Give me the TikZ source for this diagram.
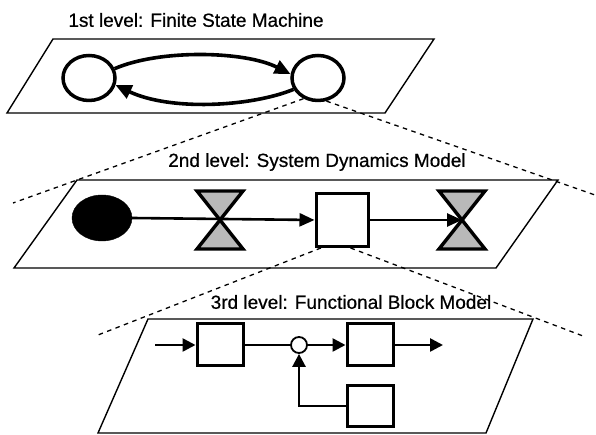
\documentclass[tikz,border=0pt]{standalone}
\usepackage{fontspec}
\setmainfont{Liberation Sans}
\newfontfamily\titlefont[FakeBold=0.6]{Liberation Sans}
\usetikzlibrary{arrows.meta,shapes.geometric}
\begin{document}
\begin{tikzpicture}[x=1pt,y=1pt,
  plane/.style={draw=black,line width=1.4pt,line join=miter},
  title/.style={font=\titlefont\fontsize{19}{22}\selectfont,inner sep=0pt},
  guide/.style={draw=black,line width=1.3pt,dash pattern=on 4.5pt off 4.5pt},
  state/.style={ellipse,draw=black,line width=3.5pt,minimum width=52pt,minimum height=45pt,inner sep=0pt},
  trans/.style={line width=3.6pt,-{Triangle[length=16pt,width=14pt]}},
  flow/.style={line width=2.6pt,-{Triangle[length=15pt,width=13pt]}},
  sig/.style={line width=2.6pt,-{Triangle[length=13pt,width=13pt]}},
  plain/.style={line width=2.6pt},
  stockbox/.style={rectangle,draw=black,line width=3pt,minimum width=52pt,minimum height=53pt,inner sep=0pt},
  blockbox/.style={rectangle,draw=black,line width=3pt,minimum width=46pt,minimum height=42pt,inner sep=0pt},
  hglass/.style={draw=black,fill=gray!55,line width=3.4pt,line join=miter}
]
\useasboundingbox (0,0) rectangle (596,435);

% ---------- Level 1 ----------
\draw[plane] (53,396) -- (434,396) -- (385,322) -- (7,322) -- cycle;
\node[title] (t1) at (196,415) {1st level: Finite State Machine};
\node[state] (L) at (89,357) {};
\node[state] (R) at (318,357) {};
\draw[trans] (L.20) .. controls (160,386) and (245,384) .. (R.172);
\draw[trans] (R.-155) .. controls (250,328) and (170,324) .. (L.-15);

% ---------- guides level 1 -> level 2 ----------
\coordinate (g1l) at (13,232);
\coordinate (g1r) at (595,240);
\draw[guide] (R.-125) -- (g1l);
\draw[guide] (R.-70) -- (g1r);

% ---------- Level 2 ----------
\draw[plane] (77,255) -- (558,255) -- (496,167) -- (14,167) -- cycle;
\node[title] (t2) at (317,273) {2nd level: System Dynamics Model};
\node[ellipse,fill=black,draw=black,minimum width=60pt,minimum height=46pt,inner sep=0pt] (src) at (102,217) {};
\coordinate (v1) at (220,215);
\coordinate (v2) at (462,215);
\draw[hglass] (197,244) -- (243,244) -- (v1) -- cycle;
\draw[hglass] (197,186) -- (243,186) -- (v1) -- cycle;
\draw[hglass] (439,244) -- (485,244) -- (v2) -- cycle;
\draw[hglass] (439,186) -- (485,186) -- (v2) -- cycle;
\node[stockbox] (stock) at (342,215) {};
\draw[flow] (src.east) -- (stock.west);
\draw[flow] (stock.east) -- (v2);

% ---------- guides level 2 -> level 3 ----------
\coordinate (g2l) at (98,100);
\coordinate (g2r) at (583,99);
\draw[guide] (stock.-127) -- (g2l);
\draw[guide] (stock.-73) -- (g2r);

% ---------- Level 3 ----------
\draw[plane] (148,116) -- (533,116) -- (486,2) -- (98,2) -- cycle;
\node[title] (t3) at (351,133) {3rd level: Functional Block Model};
\coordinate (in) at (155,90);
\coordinate (out) at (443,90);
\node[blockbox] (b1) at (220,90) {};
\node[circle,draw=black,fill=white,line width=1.8pt,minimum size=16pt,inner sep=0pt] (sum) at (299,90) {};
\node[blockbox] (b2) at (370,90) {};
\node[blockbox,minimum height=41pt] (b3) at (370,29) {};
\draw[sig] (in) -- (b1.west);
\draw[plain] (b1.east) -- (sum.west);
\draw[sig] (sum.east) -- (b2.west);
\draw[sig] (b2.east) -- (out);
\draw[sig] (b3.west) -| (sum.south);
\end{tikzpicture}
\end{document}
